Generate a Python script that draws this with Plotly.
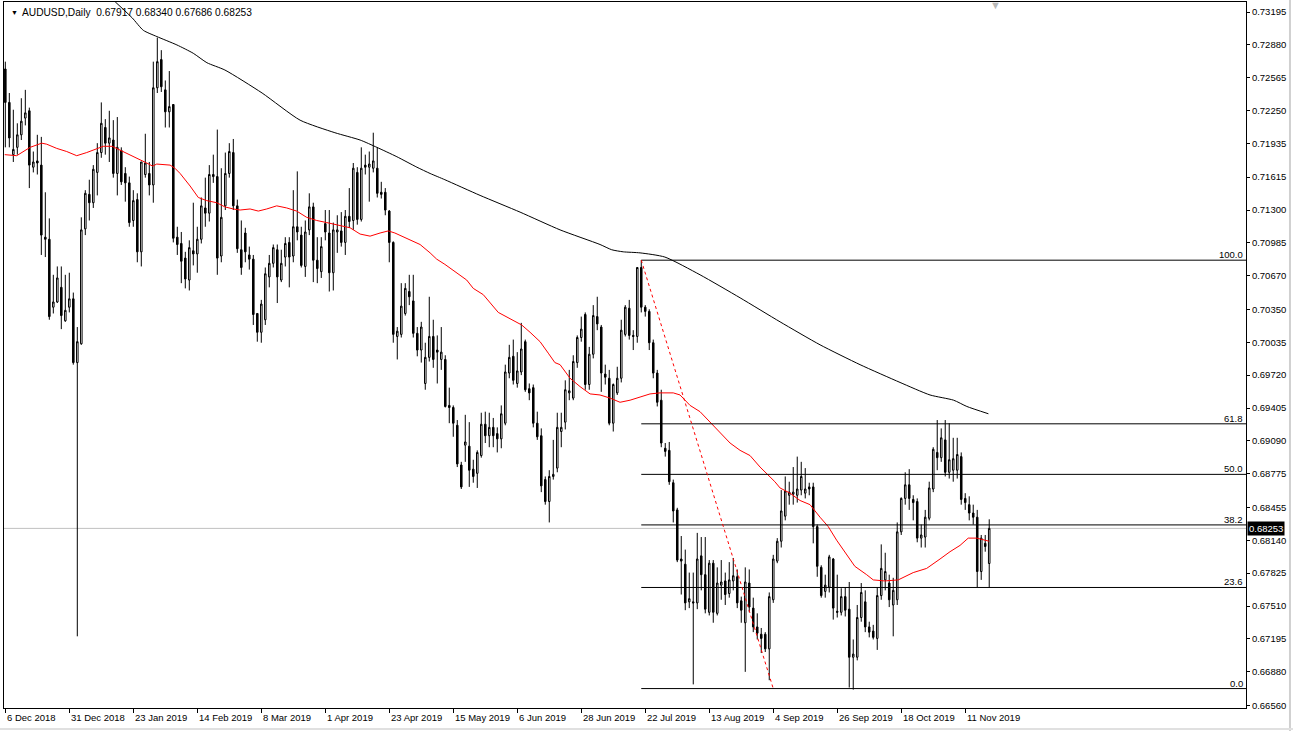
import plotly.graph_objects as go

# ---------------- data ----------------
opens = [
    0.7265, 0.7233, 0.7183, 0.7190, 0.7202, 0.7218, 0.7225, 0.7171, 0.7177, 0.7173,
    0.7104, 0.7102, 0.7037, 0.7042, 0.7056, 0.7024, 0.7037, 0.7045, 0.6984, 0.7002,
    0.7112, 0.7145, 0.7137, 0.7166, 0.7185, 0.7209, 0.7194, 0.7197, 0.7165, 0.7187,
    0.7165, 0.7156, 0.7120, 0.7140, 0.7090, 0.7164, 0.7165, 0.7154, 0.7247, 0.7274,
    0.7245, 0.7224, 0.7231, 0.7104, 0.7098, 0.7084, 0.7063, 0.7091, 0.7088, 0.7102,
    0.7132, 0.7127, 0.7164, 0.7162, 0.7086, 0.7134, 0.7165, 0.7185, 0.7134, 0.7092,
    0.7108, 0.7087, 0.7083, 0.7031, 0.7013, 0.7025, 0.7066, 0.7079, 0.7092, 0.7063,
    0.7085, 0.7099, 0.7086, 0.7114, 0.7106, 0.7076, 0.7111, 0.7133, 0.7082, 0.7071,
    0.7117, 0.7108, 0.7070, 0.7109, 0.7110, 0.7099, 0.7124, 0.7120, 0.7166, 0.7121,
    0.7173, 0.7171, 0.7170, 0.7170, 0.7147, 0.7147, 0.7129, 0.7099, 0.7009, 0.7011,
    0.7031, 0.7052, 0.7043, 0.7012, 0.6996, 0.6964, 0.6989, 0.7009, 0.6996, 0.6987,
    0.6987, 0.6943, 0.6941, 0.6924, 0.6886, 0.6905, 0.6904, 0.6882, 0.6878, 0.6895,
    0.6925, 0.6914, 0.6922, 0.6916, 0.6911, 0.6926, 0.6974, 0.6990, 0.6964, 0.6975,
    0.7004, 0.6959, 0.6960, 0.6926, 0.6914, 0.6872, 0.6851, 0.6875, 0.6883, 0.6918,
    0.6927, 0.6955, 0.6950, 0.6984, 0.7008, 0.7030, 0.6963, 0.6992, 0.7028, 0.7018,
    0.6973, 0.6969, 0.6926, 0.6955, 0.6969, 0.7011, 0.7036, 0.7010, 0.7009, 0.7075,
    0.7037, 0.7033, 0.7003, 0.6974, 0.6948, 0.6902, 0.6900, 0.6869, 0.6843, 0.6796,
    0.6791, 0.6755, 0.6755, 0.6754, 0.6799, 0.6781, 0.6745, 0.6792, 0.6744, 0.6771,
    0.6775, 0.6763, 0.6775, 0.6779, 0.6756, 0.6735, 0.6773, 0.6749, 0.6731, 0.6724,
    0.6724, 0.6710, 0.6757, 0.6794, 0.6813, 0.6837, 0.6857, 0.6858, 0.6857, 0.6862,
    0.6859, 0.6865, 0.6865, 0.6827, 0.6788, 0.6765, 0.6769, 0.6796, 0.6746, 0.6745,
    0.6760, 0.6748, 0.6702, 0.6702, 0.6740, 0.6755, 0.6731, 0.6727, 0.6720, 0.6761,
    0.6776, 0.6773, 0.6752, 0.6757, 0.6822, 0.6854, 0.6867, 0.6853, 0.6851, 0.6816,
    0.6817, 0.6835, 0.6863, 0.6898, 0.6893, 0.6910, 0.6879, 0.6881, 0.6881, 0.6894,
    0.6854, 0.6848, 0.6840, 0.6836, 0.6784, 0.6811, 0.67917,
]
highs = [
    0.7272, 0.7242, 0.7226, 0.7213, 0.7237, 0.7245, 0.7228, 0.7186, 0.7202, 0.7200,
    0.7147, 0.7122, 0.7068, 0.7076, 0.7076, 0.7068, 0.7070, 0.7051, 0.7018, 0.7123,
    0.7149, 0.7159, 0.7173, 0.7194, 0.7233, 0.7217, 0.7225, 0.7216, 0.7219, 0.7190,
    0.7171, 0.7162, 0.7149, 0.7146, 0.7176, 0.7203, 0.7176, 0.7272, 0.7295, 0.7283,
    0.7254, 0.7263, 0.7231, 0.7114, 0.7109, 0.7090, 0.7101, 0.7137, 0.7114, 0.7142,
    0.7161, 0.7173, 0.7183, 0.7207, 0.7170, 0.7185, 0.7194, 0.7198, 0.7140, 0.7120,
    0.7113, 0.7095, 0.7087, 0.7031, 0.7044, 0.7075, 0.7087, 0.7097, 0.7097, 0.7092,
    0.7104, 0.7104, 0.7149, 0.7167, 0.7114, 0.7120, 0.7146, 0.7137, 0.7104, 0.7104,
    0.7130, 0.7130, 0.7118, 0.7125, 0.7128, 0.7130, 0.7151, 0.7175, 0.7171, 0.7190,
    0.7183, 0.7186, 0.7204, 0.7190, 0.7157, 0.7151, 0.7130, 0.7100, 0.7018, 0.7060,
    0.7060, 0.7068, 0.7068, 0.7018, 0.7023, 0.7003, 0.7047, 0.7025, 0.7010, 0.7018,
    0.6991, 0.6960, 0.6943, 0.6929, 0.6889, 0.6934, 0.6927, 0.6891, 0.6900, 0.6936,
    0.6937, 0.6936, 0.6931, 0.6922, 0.6943, 0.6982, 0.7001, 0.7006, 0.6994, 0.7022,
    0.7006, 0.6964, 0.6963, 0.6937, 0.6921, 0.6875, 0.6881, 0.6910, 0.6936, 0.6936,
    0.6967, 0.6977, 0.6991, 0.7010, 0.7028, 0.7032, 0.6999, 0.7039, 0.7047, 0.7020,
    0.6982, 0.6977, 0.6964, 0.6980, 0.7025, 0.7039, 0.7044, 0.7015, 0.7075, 0.7082,
    0.7039, 0.7035, 0.7006, 0.6977, 0.6958, 0.6907, 0.6908, 0.6872, 0.6845, 0.6818,
    0.6805, 0.6783, 0.6783, 0.6821, 0.6817, 0.6817, 0.6795, 0.6795, 0.6788, 0.6795,
    0.6783, 0.6793, 0.6797, 0.6786, 0.6760, 0.6788, 0.6786, 0.6759, 0.6744, 0.6730,
    0.6726, 0.6764, 0.6800, 0.6816, 0.6862, 0.6875, 0.6870, 0.6884, 0.6894, 0.6889,
    0.6883, 0.6869, 0.6869, 0.6829, 0.6790, 0.6781, 0.6800, 0.6797, 0.6781, 0.6768,
    0.6769, 0.6774, 0.6719, 0.6752, 0.6773, 0.6766, 0.6736, 0.6733, 0.6769, 0.6810,
    0.6802, 0.6781, 0.6778, 0.6831, 0.6855, 0.6879, 0.6882, 0.6857, 0.6854, 0.6829,
    0.6843, 0.6870, 0.6903, 0.6929, 0.6921, 0.6929, 0.6926, 0.6912, 0.6912, 0.6898,
    0.6859, 0.6856, 0.6848, 0.6843, 0.6819, 0.6819, 0.68340,
]
lows = [
    0.7190, 0.7190, 0.7176, 0.7183, 0.7197, 0.7211, 0.7151, 0.7166, 0.7164, 0.7087,
    0.7085, 0.7025, 0.7031, 0.7041, 0.7016, 0.7023, 0.7032, 0.6982, 0.6722, 0.7001,
    0.7106, 0.7120, 0.7132, 0.7144, 0.7180, 0.7183, 0.7176, 0.7161, 0.7144, 0.7154,
    0.7138, 0.7114, 0.7114, 0.7080, 0.7076, 0.7161, 0.7144, 0.7137, 0.7242, 0.7243,
    0.7209, 0.7209, 0.7099, 0.7087, 0.7060, 0.7055, 0.7053, 0.7077, 0.7070, 0.7098,
    0.7114, 0.7119, 0.7156, 0.7068, 0.7080, 0.7130, 0.7161, 0.7130, 0.7089, 0.7068,
    0.7080, 0.7073, 0.7020, 0.7004, 0.7003, 0.7020, 0.7056, 0.7075, 0.7041, 0.7061,
    0.7076, 0.7056, 0.7080, 0.7101, 0.7075, 0.7066, 0.7106, 0.7061, 0.7060, 0.7065,
    0.7101, 0.7052, 0.7053, 0.7089, 0.7095, 0.7087, 0.7113, 0.7111, 0.7116, 0.7119,
    0.7164, 0.7138, 0.7166, 0.7142, 0.7141, 0.7125, 0.7080, 0.7003, 0.6987, 0.7008,
    0.7029, 0.7039, 0.7008, 0.6990, 0.6984, 0.6958, 0.6985, 0.6979, 0.6964, 0.6977,
    0.6941, 0.6926, 0.6913, 0.6884, 0.6863, 0.6889, 0.6865, 0.6869, 0.6864, 0.6893,
    0.6907, 0.6903, 0.6903, 0.6898, 0.6902, 0.6924, 0.6969, 0.6963, 0.6960, 0.6972,
    0.6956, 0.6948, 0.6922, 0.6910, 0.6860, 0.6848, 0.6831, 0.6872, 0.6879, 0.6903,
    0.6920, 0.6948, 0.6948, 0.6979, 0.7004, 0.6958, 0.6958, 0.6988, 0.7015, 0.6956,
    0.6963, 0.6924, 0.6918, 0.6953, 0.6965, 0.7009, 0.7006, 0.6996, 0.7003, 0.7032,
    0.7028, 0.6996, 0.6969, 0.6942, 0.6903, 0.6894, 0.6867, 0.6831, 0.6793, 0.6762,
    0.6747, 0.6749, 0.6676, 0.6748, 0.6766, 0.6744, 0.6742, 0.6735, 0.6742, 0.6757,
    0.6752, 0.6759, 0.6766, 0.6749, 0.6735, 0.6688, 0.6745, 0.6726, 0.6719, 0.6706,
    0.6707, 0.6680, 0.6754, 0.6792, 0.6807, 0.6833, 0.6848, 0.6848, 0.6850, 0.6857,
    0.6854, 0.6857, 0.6811, 0.6779, 0.6759, 0.6759, 0.6764, 0.6738, 0.6740, 0.6742,
    0.6741, 0.6673, 0.6671, 0.6699, 0.6736, 0.6726, 0.6721, 0.6719, 0.6709, 0.6757,
    0.6766, 0.6750, 0.6722, 0.6752, 0.6819, 0.6848, 0.6843, 0.6833, 0.6812, 0.6807,
    0.6807, 0.6833, 0.6860, 0.6881, 0.6889, 0.6875, 0.6873, 0.6870, 0.6873, 0.6848,
    0.6843, 0.6833, 0.6829, 0.6769, 0.6776, 0.6803, 0.67686,
]
closes = [
    0.7233, 0.7199, 0.7188, 0.7202, 0.7215, 0.7223, 0.7173, 0.7176, 0.7175, 0.7106,
    0.7102, 0.7028, 0.7042, 0.7065, 0.7029, 0.7034, 0.7045, 0.6984, 0.7004, 0.7111,
    0.7146, 0.7137, 0.7169, 0.7185, 0.7213, 0.7194, 0.7199, 0.7165, 0.7190, 0.7157,
    0.7156, 0.7118, 0.7139, 0.7090, 0.7176, 0.7175, 0.7154, 0.7247, 0.7272, 0.7248,
    0.7224, 0.7229, 0.7103, 0.7097, 0.7081, 0.7064, 0.7094, 0.7088, 0.7102, 0.7134,
    0.7127, 0.7164, 0.7162, 0.7084, 0.7123, 0.7165, 0.7186, 0.7134, 0.7093, 0.7075,
    0.7090, 0.7083, 0.7030, 0.7013, 0.7040, 0.7069, 0.7079, 0.7094, 0.7066, 0.7079,
    0.7098, 0.7085, 0.7114, 0.7109, 0.7077, 0.7109, 0.7133, 0.7082, 0.7074, 0.7095,
    0.7109, 0.7070, 0.7111, 0.7111, 0.7099, 0.7124, 0.7119, 0.7170, 0.7121, 0.7170,
    0.7171, 0.7174, 0.7177, 0.7146, 0.7145, 0.7130, 0.7099, 0.7011, 0.7014, 0.7038,
    0.7055, 0.7047, 0.7012, 0.6996, 0.7018, 0.6989, 0.7009, 0.6987, 0.6994, 0.6994,
    0.6942, 0.6941, 0.6926, 0.6887, 0.6865, 0.6908, 0.6881, 0.6875, 0.6898, 0.6925,
    0.6914, 0.6922, 0.6914, 0.6911, 0.6935, 0.6975, 0.6989, 0.6967, 0.6976, 0.6997,
    0.6958, 0.6955, 0.6926, 0.6913, 0.6866, 0.6851, 0.6875, 0.6877, 0.6922, 0.6922,
    0.6958, 0.6957, 0.6985, 0.7008, 0.7016, 0.6963, 0.6992, 0.7029, 0.7021, 0.6974,
    0.6970, 0.6926, 0.6963, 0.6969, 0.7015, 0.7037, 0.7010, 0.7009, 0.7075, 0.7037,
    0.7033, 0.7003, 0.6974, 0.6946, 0.6907, 0.6899, 0.6870, 0.6842, 0.6795, 0.6794,
    0.6754, 0.6758, 0.6754, 0.6796, 0.6781, 0.6748, 0.6792, 0.6745, 0.6773, 0.6774,
    0.6762, 0.6776, 0.6780, 0.6754, 0.6747, 0.6774, 0.6750, 0.6731, 0.6725, 0.6720,
    0.6710, 0.6760, 0.6796, 0.6813, 0.6842, 0.6861, 0.6860, 0.6860, 0.6863, 0.6875,
    0.6863, 0.6863, 0.6827, 0.6789, 0.6761, 0.6771, 0.6798, 0.6749, 0.6745, 0.6760,
    0.6747, 0.6702, 0.6705, 0.6740, 0.6764, 0.6731, 0.6726, 0.6721, 0.6761, 0.6787,
    0.6784, 0.6757, 0.6766, 0.6822, 0.6854, 0.6867, 0.6854, 0.6850, 0.6816, 0.6819,
    0.6836, 0.6864, 0.6901, 0.6893, 0.6912, 0.6879, 0.6891, 0.6892, 0.6896, 0.6853,
    0.6850, 0.6840, 0.6836, 0.6784, 0.6816, 0.6808, 0.68253,
]
bar_idx = list(range(len(opens)))

date_tick_idx = [0, 16, 32, 48, 64, 80, 96, 112, 128, 144, 160, 176, 192, 208, 224, 240]
date_tick_text = ["6 Dec 2018", "31 Dec 2018", "23 Jan 2019", "14 Feb 2019", "8 Mar 2019",
                  "1 Apr 2019", "23 Apr 2019", "15 May 2019", "6 Jun 2019", "28 Jun 2019",
                  "22 Jul 2019", "13 Aug 2019", "4 Sep 2019", "26 Sep 2019", "18 Oct 2019",
                  "11 Nov 2019"]

price_ticks = [0.73195, 0.72880, 0.72565, 0.72250, 0.71935, 0.71615, 0.71300, 0.70985,
               0.70670, 0.70350, 0.70035, 0.69720, 0.69405, 0.69090, 0.68775, 0.68455,
               0.68140, 0.67825, 0.67510, 0.67195, 0.66880, 0.66560]

# slow moving average (black) - read at sample bars
ma_slow_idx = [25, 31.7, 34.5, 37.9, 42.9, 47.0, 50.4, 54.9, 64.2, 73.7, 82.4, 88.7, 92.9,
               97.9, 102.9, 106.2, 109.9, 118.7, 128.7, 138.7, 148.7, 151.6, 154.5, 158.7,
               164.9, 173.7, 183.7, 193.7, 203.7, 213.7, 223.7, 231.2, 237.1, 240.4, 245.8]
ma_slow_val = [0.7338, 0.7314, 0.7302, 0.7296, 0.7288, 0.7280, 0.7271, 0.7264, 0.7242,
               0.7216, 0.7204, 0.7197, 0.7190, 0.7181, 0.7171, 0.7165, 0.7159, 0.7144,
               0.7128, 0.7111, 0.7097, 0.7092, 0.7090, 0.7089, 0.7085, 0.7068, 0.7046,
               0.7023, 0.7001, 0.6982, 0.6965, 0.6953, 0.6948, 0.6942, 0.6935]

# fast moving average (red) - read at sample bars
ma_fast_idx = [-0.15, 2.85, 6.2, 9.1, 10.35, 12.85, 15.35, 17.85, 20.35, 22.85, 24.5, 26.7,
               29.5, 32.85, 35.35, 36.85, 37.85, 41.2, 42.4, 43.7, 46.2, 48.25, 50.35, 52.85,
               54.9, 57, 58.7, 61.2, 63.25, 65.35, 67.85, 70.35, 72.85, 75.35, 77.85, 80.35,
               82.4, 86.2, 88.7, 91.2, 93.7, 95.75, 97.4, 100.35, 103.7, 106.2, 107.85,
               109.9, 115.35, 117, 119.5, 123.25, 125.75, 129.1, 131.2, 133.7, 135.75,
               137.4, 138.7, 141.2, 143.7, 146.2, 148.7, 151.2, 153.7, 156.2, 158.7, 161.2,
               163.7, 167, 168.7, 171.2, 173.7, 176.2, 178.7, 181.2, 183.7, 186.2, 188.7,
               190.35, 192.4, 193.7, 196.2, 198.7, 201.2, 203.7, 205.75, 207.85, 210.35,
               212.4, 215.35, 217, 219.9, 223.25, 227, 230.35, 233.7, 236.2, 238.7, 240.75,
               242.85, 244.9, 246]
ma_fast_val = [0.7183, 0.7182, 0.7190, 0.7194, 0.7193, 0.7189, 0.7186, 0.7182, 0.7185,
               0.7189, 0.7191, 0.7191, 0.7186, 0.7180, 0.7175, 0.7172, 0.7174, 0.7173,
               0.7170, 0.7165, 0.7153, 0.7142, 0.7139, 0.7137, 0.7133, 0.7131, 0.7130,
               0.7131, 0.7129, 0.7131, 0.7134, 0.7132, 0.7129, 0.7123, 0.7120, 0.7118,
               0.7116, 0.7113, 0.7107, 0.7105, 0.7108, 0.7110, 0.7108, 0.7103, 0.7097,
               0.7089, 0.7083, 0.7078, 0.7063, 0.7055, 0.7049, 0.7032, 0.7027, 0.7020,
               0.7013, 0.7004, 0.6993, 0.6984, 0.6982, 0.6969, 0.6961, 0.6954, 0.6953,
               0.6950, 0.6946, 0.6948, 0.6951, 0.6954, 0.6955, 0.6955, 0.6953, 0.6943,
               0.6937, 0.6927, 0.6917, 0.6907, 0.6900, 0.6895, 0.6884, 0.6878, 0.6870,
               0.6864, 0.6859, 0.6852, 0.6848, 0.6836, 0.6827, 0.6814, 0.6800, 0.6789,
               0.6781, 0.6776, 0.6775, 0.6776, 0.6783, 0.6787, 0.6796, 0.6803, 0.6809,
               0.6816, 0.6816, 0.6814, 0.6813]

fib_high = 0.7082
fib_low = 0.6672
fib_start_idx = 159
fib_end_idx = 192
fib_ratios = [1.0, 0.618, 0.5, 0.382, 0.236, 0.0]
fib_labels = ["100.0", "61.8", "50.0", "38.2", "23.6", "0.0"]

last_price = 0.68253
title_text = "AUDUSD,Daily  0.67917 0.68340 0.67686 0.68253"

# ---------------- layout constants ----------------
X_MIN, X_MAX = -0.33, 310.2
Y_MIN, Y_MAX = 0.66534, 0.73291
FONT = "Liberation Sans"
FS = 9.5

fig = go.Figure()

fig.add_trace(go.Candlestick(
    x=bar_idx, open=opens, high=highs, low=lows, close=closes,
    increasing=dict(line=dict(color="black", width=1), fillcolor="white"),
    decreasing=dict(line=dict(color="black", width=1), fillcolor="black"),
    whiskerwidth=0, hoverinfo="skip", showlegend=False,
))

fig.add_trace(go.Scatter(
    x=ma_slow_idx, y=ma_slow_val, mode="lines",
    line=dict(color="black", width=1, shape="spline", smoothing=0.6),
    hoverinfo="skip", showlegend=False,
))
fig.add_trace(go.Scatter(
    x=ma_fast_idx, y=ma_fast_val, mode="lines",
    line=dict(color="#ff0000", width=1),
    hoverinfo="skip", showlegend=False,
))

shapes = []
# current price line
shapes.append(dict(type="line", xref="x", yref="y", x0=X_MIN, x1=X_MAX,
                   y0=last_price, y1=last_price, layer="below",
                   line=dict(color="#c0c0c0", width=1)))
# fibonacci levels
annotations = []
for r, lab in zip(fib_ratios, fib_labels):
    lvl = fib_low + r * (fib_high - fib_low)
    shapes.append(dict(type="line", xref="x", yref="y", x0=fib_start_idx, x1=X_MAX,
                       y0=lvl, y1=lvl, line=dict(color="black", width=1)))
    annotations.append(dict(xref="paper", yref="y", x=1, y=lvl, text=lab,
                            showarrow=False, xanchor="right", yanchor="bottom",
                            xshift=-1, yshift=-2,
                            font=dict(family=FONT, size=FS, color="black")))
# fib trend line (red dotted)
shapes.append(dict(type="line", xref="x", yref="y", x0=fib_start_idx, x1=fib_end_idx,
                   y0=fib_high, y1=fib_low, line=dict(color="#ff0000", width=1, dash="dot")))
# window edges
shapes.append(dict(type="line", xref="paper", yref="paper", x0=1.0354, x1=1.0354,
                   y0=-0.05, y1=1.01, line=dict(color="#d0d0d0", width=2)))
shapes.append(dict(type="line", xref="paper", yref="paper", x0=-0.01, x1=1.04,
                   y0=-0.0297, y1=-0.0297, line=dict(color="#e0e0e0", width=2)))

# date labels (left aligned at tick, MT4 style)
for idx, txt in zip(date_tick_idx, date_tick_text):
    annotations.append(dict(xref="x", yref="paper", x=idx, y=0, text=txt, showarrow=False,
                            xanchor="left", yanchor="top", xshift=0, yshift=-2,
                            font=dict(family=FONT, size=FS, color="black")))

# last price tag
annotations.append(dict(xref="paper", yref="y", x=1, y=last_price, text="0.68253",
                        showarrow=False, xanchor="left", yanchor="middle", xshift=1,
                        bgcolor="black", borderpad=1,
                        font=dict(family=FONT, size=FS, color="white")))
# title
annotations.append(dict(xref="paper", yref="paper", x=(9 - 4) / 1242, y=1 - (12 - 2) / 706,
                        text="▼", showarrow=False, xanchor="left", yanchor="middle",
                        font=dict(family=FONT, size=7, color="black")))
annotations.append(dict(xref="paper", yref="paper", x=(20 - 4) / 1242, y=1 - (12 - 2) / 706,
                        text=title_text, showarrow=False, xanchor="left", yanchor="middle",
                        font=dict(family=FONT, size=10.2, color="black")))
# chart shift marker
annotations.append(dict(xref="paper", yref="paper", x=(995 - 4) / 1242, y=1,
                        text="▼", showarrow=False, xanchor="center", yanchor="top",
                        yshift=5, font=dict(family=FONT, size=11, color="#b8b8b8")))

fig.update_layout(
    width=1293, height=731,
    margin=dict(l=4, r=47, t=2, b=23),
    paper_bgcolor="white", plot_bgcolor="white",
    showlegend=False, boxgap=0.45,
    font=dict(family=FONT, size=FS, color="black"),
    shapes=shapes, annotations=annotations,
    xaxis=dict(range=[X_MIN, X_MAX], rangeslider=dict(visible=False), showgrid=False,
               zeroline=False, showline=True, linecolor="black", linewidth=1, mirror=True,
               ticks="outside", ticklen=4, tickcolor="black", tickwidth=1,
               tickvals=date_tick_idx, showticklabels=False, fixedrange=True),
    yaxis=dict(range=[Y_MIN, Y_MAX], side="right", showgrid=False, zeroline=False,
               showline=True, linecolor="black", linewidth=1, mirror=True,
               ticks="outside", ticklen=3, tickcolor="black", tickwidth=1,
               tickvals=price_ticks, ticktext=[f"{v:.5f}" for v in price_ticks],
               tickfont=dict(family=FONT, size=FS, color="black"), fixedrange=True),
)

fig.write_html("out.html", config={"displayModeBar": False},
               post_script="document.body.style.margin='0px';")
